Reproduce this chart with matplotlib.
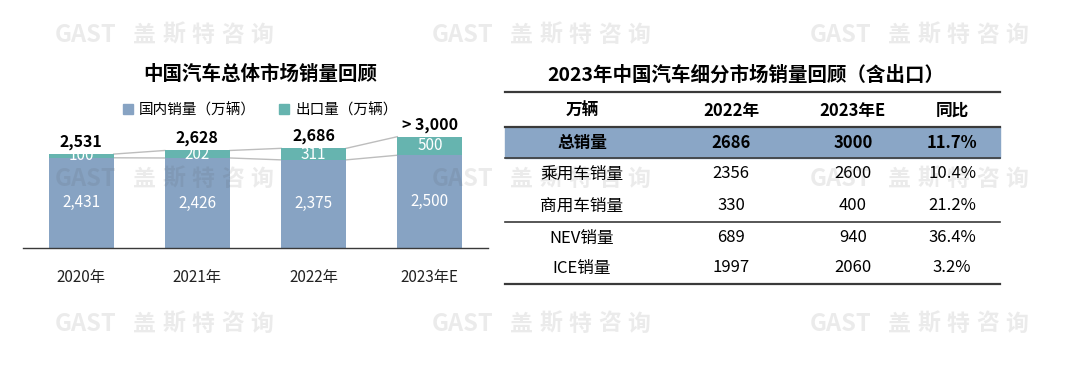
import matplotlib
matplotlib.use('Agg')
import matplotlib.pyplot as plt
from matplotlib.patches import Patch, Rectangle

plt.rcParams['font.family'] = ['Noto Sans CJK SC', 'DejaVu Sans']

# bar chart data
years = ['2020年', '2021年', '2022年', '2023年E']
domestic = [2431, 2426, 2375, 2500]
export = [100, 202, 311, 500]
total_labels = ['2,531', '2,628', '2,686', '> 3,000']

# table data
tbl_header = ['万辆', '2022年', '2023年E', '同比']
tbl_rows = ['总销量', '乘用车销量', '商用车销量', 'NEV销量', 'ICE销量']
sales_2022 = ['2686', '2356', '330', '689', '1997']
sales_2023 = ['3000', '2600', '400', '940', '2060']
yoy = ['11.7%', '10.4%', '21.2%', '36.4%', '3.2%']

blue = '#87a3c3'
teal = '#66b4af'
dark = '#3a3a3a'

fig = plt.figure(figsize=(10.8, 3.69), dpi=100)
W, H = 1080, 369

# ---- left: stacked bars
ax = fig.add_axes([23 / W, 1 - 248 / H, 465 / W, 118 / H])
x = list(range(len(years)))
bw = 0.56
ax.bar(x, domestic, width=bw, color=blue, zorder=2)
ax.bar(x, export, width=bw, bottom=domestic, color=teal, zorder=2)
ax.set_xlim(-0.5, 3.5)
ax.set_ylim(0, 3180)
for s in ['top', 'right', 'left']:
    ax.spines[s].set_visible(False)
ax.spines['bottom'].set_color(dark)
ax.spines['bottom'].set_linewidth(1.0)
ax.set_yticks([])
ax.set_xticks(x)
ax.set_xticklabels(years, fontsize=11, color='#222222')
ax.tick_params(axis='x', length=0, pad=15)

totals = [d + e for d, e in zip(domestic, export)]
# series lines between bars
for i in range(len(x) - 1):
    xs = [x[i] + bw / 2, x[i + 1] - bw / 2]
    ax.plot(xs, [domestic[i], domestic[i + 1]], color='#bdbdbd', lw=1, zorder=1)
    ax.plot(xs, [totals[i], totals[i + 1]], color='#bdbdbd', lw=1, zorder=1)

for i in x:
    ax.text(x[i], domestic[i] / 2, f'{domestic[i]:,}', ha='center', va='center',
            color='white', fontsize=11, zorder=3)
    ax.text(x[i], domestic[i] + export[i] / 2, f'{export[i]:,}', ha='center', va='center',
            color='white', fontsize=11, zorder=3)
    ax.text(x[i], totals[i] + 110, total_labels[i], ha='center', va='bottom',
            color='black', fontsize=11.5, fontweight='bold', zorder=3)

fig.text(260 / W, 1 - 75 / H, '中国汽车总体市场销量回顾', ha='center', va='center',
         fontsize=14, fontweight='bold', color='black')
handles = [Patch(color=blue), Patch(color=teal)]
fig.legend(handles, ['国内销量（万辆）', '出口量（万辆）'], loc='center',
           bbox_to_anchor=(260 / W, 1 - 110 / H), ncol=2, frameon=False,
           fontsize=10.5, handlelength=0.7, handleheight=0.7, handletextpad=0.4,
           columnspacing=1.6)

# ---- right: table
tx = fig.add_axes([0, 0, 1, 1], facecolor='none')
tx.set_xlim(0, W)
tx.set_ylim(H, 0)
tx.axis('off')

tx.text(746, 75, '2023年中国汽车细分市场销量回顾（含出口）', ha='center', va='center',
        fontsize=14, fontweight='bold', color='black')
x0, x1 = 505, 1000
tx.add_patch(Rectangle((x0, 127), x1 - x0, 31, color='#8aa6c6', zorder=1))
for yy, lw in [(92, 1.6), (127, 1.6), (158, 1.2), (222, 1.2), (284, 1.6)]:
    tx.plot([x0, x1], [yy, yy], color=dark, lw=lw, zorder=2)

col_x = [582, 731, 853, 952]
for cx, h in zip(col_x, tbl_header):
    tx.text(cx, 111, h, ha='center', va='center', fontsize=12, fontweight='bold')

row_y = [143, 174, 206, 238, 268]
for r, ry in enumerate(row_y):
    wt = 'bold' if r == 0 else 'normal'
    vals = [tbl_rows[r], sales_2022[r], sales_2023[r], yoy[r]]
    for cx, v in zip(col_x, vals):
        tx.text(cx, ry, v, ha='center', va='center', fontsize=12, fontweight=wt,
                color='black', zorder=3)

# ---- watermark
wm = fig.add_axes([0, 0, 1, 1], facecolor='none')
wm.set_xlim(0, W)
wm.set_ylim(H, 0)
wm.axis('off')
wm.set_zorder(10)
for wy in [35, 179, 324]:
    for wx in [55, 432, 810]:
        wm.text(wx, wy, 'GAST', ha='left', va='center', fontsize=17,
                fontweight='bold', color='#505050', alpha=0.11)
        for k, ch in enumerate('盖斯特咨询'):
            wm.text(wx + 89 + k * 29.5, wy, ch, ha='center', va='center',
                    fontsize=16.5, fontweight='bold', color='#505050', alpha=0.11)

fig.savefig('out.png', dpi=100)
